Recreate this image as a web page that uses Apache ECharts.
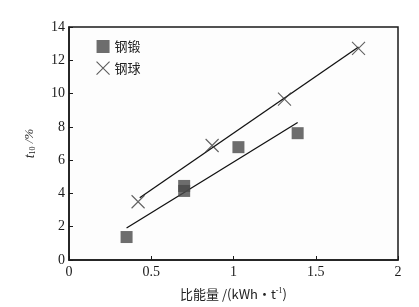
<!DOCTYPE html>
<html>
<head>
<meta charset="utf-8">
<script src="https://cdn.jsdelivr.net/npm/echarts@6/dist/echarts.min.js"></script>
<style>
  html, body { margin: 0; padding: 0; background: #fff; }
  #chart { width: 419px; height: 307px; }
</style>
</head>
<body>
<div id="chart"></div>
<script>
// 钢锻 (forged steel) points
const forgedX = [0.35, 0.70, 0.70, 1.03, 1.39]
const forgedY = [1.38, 4.45, 4.15, 6.78, 7.62]
// 钢球 (steel ball) points
const ballX = [0.42, 0.87, 1.31, 1.76]
const ballY = [3.50, 6.88, 9.66, 12.72]
// fitted lines (endpoints)
const forgedFitX = [0.35, 1.39]
const forgedFitY = [1.92, 8.26]
const ballFitX = [0.43, 1.76]
const ballFitY = [3.74, 12.8]

const serif = '"Liberation Serif", "Times New Roman", serif'
const cjk = '"Noto Sans CJK SC", sans-serif'
const zip = (xs, ys) => xs.map((x, i) => [x, ys[i]])
const crossPath = 'path://M0,0L10,10M10,0L0,10'

const chart = echarts.init(document.getElementById('chart'))
chart.setOption({
  animation: false,
  grid: {
    left: 69, right: 21, top: 27, bottom: 47,
    show: true, borderColor: '#1a1a1a', borderWidth: 1.5, backgroundColor: '#fdfdfd'
  },
  legend: {
    orient: 'vertical', left: 91, top: 35, itemGap: 8,
    itemWidth: 13, itemHeight: 13,
    textStyle: { fontFamily: cjk, fontSize: 13, color: '#222' },
    data: [
      { name: '钢锻', icon: 'rect', itemStyle: { color: '#484848' } },
      { name: '钢球', icon: crossPath, itemStyle: { color: 'transparent', borderColor: '#333', borderWidth: 1.1 } }
    ]
  },
  xAxis: {
    type: 'value', min: 0, max: 2, interval: 0.5,
    name: '{a|比能量 /(kWh·t}{sup|-1}{a|)}',
    nameLocation: 'middle', nameGap: 27,
    nameTextStyle: {
      rich: {
        a: { fontFamily: cjk, fontSize: 13, color: '#222' },
        sup: { fontFamily: serif, fontSize: 8, color: '#222', verticalAlign: 'top', padding: [0, 0, 6, 0] }
      }
    },
    axisLine: { lineStyle: { color: '#1a1a1a', width: 1.5 } },
    axisTick: { inside: true, length: 4, lineStyle: { color: '#1a1a1a' } },
    axisLabel: { fontFamily: serif, fontSize: 14, color: '#1a1a1a', margin: 5 },
    splitLine: { show: false }
  },
  yAxis: {
    type: 'value', min: 0, max: 14, interval: 2,
    name: '{i|t}{sub|10}{a| /%}',
    nameLocation: 'middle', nameGap: 32, nameRotate: 90,
    nameTextStyle: {
      rich: {
        i: { fontFamily: serif, fontStyle: 'italic', fontSize: 14, color: '#222' },
        sub: { fontFamily: serif, fontSize: 8, color: '#222', verticalAlign: 'bottom', padding: [6, 0, 0, 0] },
        a: { fontFamily: serif, fontStyle: 'italic', fontSize: 13, color: '#222' }
      }
    },
    axisLine: { lineStyle: { color: '#1a1a1a', width: 1.5 } },
    axisTick: { inside: true, length: 4, lineStyle: { color: '#1a1a1a' } },
    axisLabel: { fontFamily: serif, fontSize: 14, color: '#1a1a1a', margin: 4 },
    splitLine: { show: false }
  },
  series: [
    {
      name: '钢锻', type: 'scatter', data: zip(forgedX, forgedY),
      symbol: 'rect', symbolSize: 12,
      itemStyle: { color: '#484848' }, z: 3
    },
    {
      name: '钢球', type: 'scatter', data: zip(ballX, ballY),
      symbol: crossPath, symbolSize: 13,
      itemStyle: { color: 'transparent', borderColor: '#3a3a3a', borderWidth: 1.1 }, z: 3
    },
    {
      name: 'fitForged', type: 'line', data: zip(forgedFitX, forgedFitY),
      symbol: 'none', lineStyle: { color: '#111', width: 1.3 }, z: 2
    },
    {
      name: 'fitBall', type: 'line', data: zip(ballFitX, ballFitY),
      symbol: 'none', lineStyle: { color: '#111', width: 1.3 }, z: 2
    }
  ]
})
</script>
</body>
</html>
